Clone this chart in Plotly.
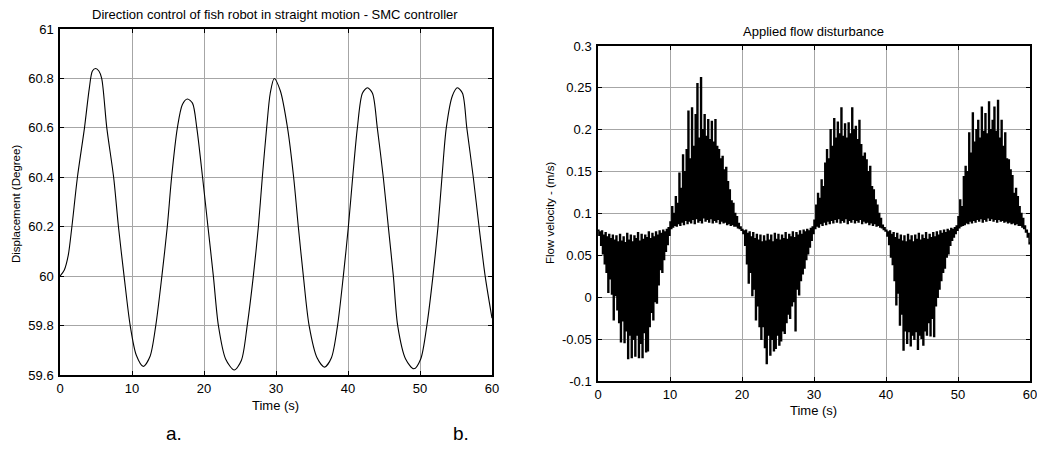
import plotly.graph_objects as go

# ---------------- data: left panel (displacement, degree) ----------------
left_t = [0, 0.6, 1.15, 1.65, 2.42, 3.4, 4.07, 4.5, 4.95, 5.4, 5.79, 6.5, 7.45, 8.12, 8.9, 9.75,
          10.6, 11.57, 12.5, 13.3, 14.15, 14.9, 15.5, 16.3, 17.0, 17.7, 18.4, 19.0, 19.8, 20.55,
          21.3, 22.0, 23.0, 24.2, 25.2, 26.0, 26.85, 27.55, 28.1, 28.7, 29.2, 29.75, 30.6, 31.6,
          32.45, 33.1, 33.8, 34.6, 35.7, 36.75, 37.7, 38.55, 39.35, 40.05, 40.65, 41.3, 42.0,
          42.7, 43.4, 44.07, 44.9, 45.6, 46.3, 46.9, 48.0, 49.15, 50.1, 50.95, 51.8, 52.5, 53.05,
          53.65, 54.5, 55.2, 55.9, 56.5, 57.4, 58.2, 59.05, 60.0]
left_v = [60.00, 60.025, 60.085, 60.20, 60.40, 60.60, 60.76, 60.83, 60.84, 60.83, 60.80, 60.60,
          60.40, 60.20, 60.00, 59.80, 59.68, 59.635, 59.675, 59.80, 60.00, 60.20, 60.40, 60.60,
          60.695, 60.717, 60.70, 60.60, 60.40, 60.20, 60.00, 59.80, 59.665, 59.62, 59.66, 59.80,
          60.00, 60.20, 60.40, 60.60, 60.74, 60.80, 60.75, 60.60, 60.40, 60.20, 60.00, 59.80,
          59.67, 59.632, 59.67, 59.80, 60.00, 60.20, 60.40, 60.60, 60.74, 60.762, 60.74, 60.60,
          60.40, 60.20, 60.00, 59.80, 59.665, 59.625, 59.665, 59.80, 60.00, 60.20, 60.40, 60.60,
          60.73, 60.762, 60.74, 60.60, 60.40, 60.20, 60.00, 59.83]

# ---------------- data: right panel (flow velocity, m/s) ----------------
# per 0.25 s bin: upper and lower extreme of the dense disturbance signal
bin_step = 0.25
flow_hi = [
    # 0 - 10 s
    .080, .078, .079, .074, .077, .072, .075, .070, .074, .068, .073, .066, .075, .067, .072, .065,
    .076, .068, .074, .066, .073, .070, .077, .067, .075, .069, .074, .071, .078, .070, .076, .072,
    .078, .074, .079, .076, .080, .078, .081, .083,
    # 10 - 20 s
    .090, .108, .100, .120, .112, .148, .130, .170, .150, .176, .222, .165, .226, .180, .218, .255,
    .190, .262, .200, .218, .192, .212, .188, .210, .185, .212, .180, .176, .165, .168, .152, .155,
    .138, .128, .115, .112, .100, .096, .088, .084,
    # 20 - 30 s
    .081, .079, .080, .076, .078, .072, .077, .070, .075, .068, .074, .066, .073, .067, .075, .068,
    .074, .066, .076, .069, .075, .068, .074, .070, .077, .069, .075, .072, .078, .071, .077, .074,
    .079, .075, .080, .078, .081, .079, .082, .084,
    # 30 - 40 s
    .092, .110, .124, .118, .140, .132, .160, .176, .165, .200, .180, .213, .190, .209, .195, .226,
    .192, .207, .190, .208, .195, .226, .200, .204, .188, .211, .182, .168, .172, .164, .150, .156,
    .132, .128, .116, .110, .100, .094, .086, .083,
    # 40 - 50 s
    .080, .078, .079, .075, .077, .071, .076, .069, .074, .067, .073, .066, .075, .068, .073, .066,
    .074, .069, .076, .068, .074, .070, .077, .069, .075, .071, .077, .072, .078, .074, .079, .076,
    .080, .077, .081, .079, .082, .081, .083, .085,
    # 50 - 60 s
    .096, .116, .108, .144, .156, .150, .196, .172, .220, .185, .200, .211, .190, .227, .198, .219,
    .195, .233, .200, .211, .227, .198, .235, .190, .211, .180, .196, .165, .164, .152, .145, .124,
    .130, .120, .108, .100, .094, .085, .080, .076,
]
flow_lo = [
    # 0 - 10 s
    .074, .062, .052, .040, .030, .006, .022, .004, -.027, .002, -.015, -.030, -.053, -.028, -.054, -.040,
    -.073, -.045, -.072, -.050, -.070, -.045, -.072, -.055, -.072, -.042, -.065, -.064, -.035, -.018, -.027, -.005,
    -.007, .015, .033, .030, .045, .055, .063, .074,
    # 10 - 20 s
    .082, .084, .086, .085, .088, .086, .090, .087, .092, .088, .091, .089, .093, .088, .094, .090,
    .092, .089, .095, .091, .093, .090, .094, .089, .092, .090, .093, .088, .091, .089, .090, .087,
    .088, .086, .087, .085, .085, .083, .082, .080,
    # 20 - 30 s
    .076, .062, .040, .017, .030, .002, .010, -.027, -.010, -.035, -.050, -.035, -.060, -.079, -.045, -.069,
    -.050, -.064, -.061, -.045, -.057, -.052, -.040, -.043, -.030, -.020, -.025, -.010, -.005, -.040, .010, .003,
    .020, .028, .035, .045, .052, .060, .068, .076,
    # 30 - 40 s
    .082, .085, .084, .088, .086, .090, .087, .091, .088, .092, .089, .093, .090, .094, .089, .092,
    .090, .094, .088, .092, .090, .093, .089, .092, .090, .093, .088, .091, .089, .090, .087, .089,
    .086, .088, .085, .086, .084, .083, .081, .079,
    # 40 - 50 s
    .073, .063, .048, .039, .020, -.009, .005, -.033, -.020, -.063, -.040, -.055, -.041, -.058, -.045, -.050,
    -.041, -.062, -.045, -.049, -.057, -.040, -.045, -.030, -.046, -.025, -.047, -.010, .000, .010, .020, .030,
    .035, .048, .052, .062, .068, .072, .076, .080,
    # 50 - 60 s
    .083, .085, .086, .087, .089, .088, .091, .089, .092, .090, .093, .091, .094, .090, .093, .091,
    .095, .092, .094, .091, .093, .090, .093, .091, .092, .090, .091, .089, .090, .088, .089, .087,
    .088, .086, .086, .084, .082, .078, .072, .064,
]
flow_end = (60.0, 0.066)

# tick labels
x_ticks = [0, 10, 20, 30, 40, 50, 60]
left_yticks = [59.6, 59.8, 60.0, 60.2, 60.4, 60.6, 60.8, 61.0]
left_ytext = ["59.6", "59.8", "60", "60.2", "60.4", "60.6", "60.8", "61"]
right_yticks = [-0.1, -0.05, 0, 0.05, 0.1, 0.15, 0.2, 0.25, 0.3]
right_ytext = ["-0.1", "-0.05", "0", "0.05", "0.1", "0.15", "0.2", "0.25", "0.3"]

# build the sample sequence of the disturbance signal (upper then lower in each bin)
flow_t, flow_v = [], []
for i, (h, l) in enumerate(zip(flow_hi, flow_lo)):
    t0 = i * bin_step
    flow_t += [t0, t0 + bin_step / 2]
    flow_v += [h, l]
flow_t.append(flow_end[0])
flow_v.append(flow_end[1])

W, H = 1037, 452
FONT = "Liberation Sans, Arial, Helvetica, sans-serif"

def px_x(p):
    return p / W

def px_y(p):
    return 1 - p / H

fig = go.Figure()
fig.add_trace(go.Scatter(x=left_t, y=left_v, mode="lines",
                         line=dict(color="black", width=1.1, shape="spline", smoothing=0.8),
                         xaxis="x", yaxis="y", showlegend=False, hoverinfo="skip"))
fig.add_trace(go.Scatter(x=flow_t, y=flow_v, mode="lines",
                         line=dict(color="black", width=1.5, shape="hv", simplify=False),
                         xaxis="x2", yaxis="y2", showlegend=False, hoverinfo="skip"))

axis_common = dict(showline=True, linecolor="black", linewidth=1.5, mirror="ticks",
                   ticks="inside", ticklen=4, tickcolor="black", tickwidth=1,
                   showgrid=True, gridcolor="#a6a6a6", gridwidth=1, zeroline=False,
                   automargin=False, ticklabeloverflow="allow",
                   tickfont=dict(family=FONT, size=13, color="black"))

fig.update_layout(
    template="none",
    width=W, height=H, autosize=False,
    paper_bgcolor="white", plot_bgcolor="white",
    margin=dict(l=0, r=0, t=0, b=0, pad=0),
    font=dict(family=FONT, color="black"),
    xaxis=dict(domain=[px_x(60), px_x(492)], range=[0, 60], tickvals=x_ticks,
               anchor="y", ticklabelstandoff=1, **axis_common),
    yaxis=dict(domain=[px_y(375), px_y(29)], range=[59.6, 61], tickvals=left_yticks,
               ticktext=left_ytext, anchor="x", ticklabelstandoff=2, **axis_common),
    xaxis2=dict(domain=[px_x(598), px_x(1030)], range=[0, 60], tickvals=x_ticks,
                anchor="y2", ticklabelstandoff=1, **axis_common),
    yaxis2=dict(domain=[px_y(381), px_y(46)], range=[-0.1, 0.3], tickvals=right_yticks,
                ticktext=right_ytext, anchor="x2", ticklabelstandoff=2, **axis_common),
)

def label(text, x, y, size=12, angle=0):
    fig.add_annotation(text=text, x=px_x(x), y=px_y(y), xref="paper", yref="paper",
                       showarrow=False, xanchor="center", yanchor="middle", textangle=angle,
                       font=dict(family=FONT, size=size, color="black"))

label("Direction control of fish robot in straight motion - SMC controller", 275, 15, 13)
label("Applied flow disturbance", 813, 31, 13)
label("Time (s)", 275, 405, 13)
label("Time (s)", 813, 410, 13)
label("Displacement (Degree)", 16, 204, 11.5, -90)
label("Flow velocity - (m/s)", 550, 213, 11.5, -90)
label("a.", 174, 433, 19)
label("b.", 461, 433, 19)

fig.write_html("out.html", config={"displayModeBar": False},
               post_script="document.body.style.margin='0';document.body.style.overflow='hidden';")
